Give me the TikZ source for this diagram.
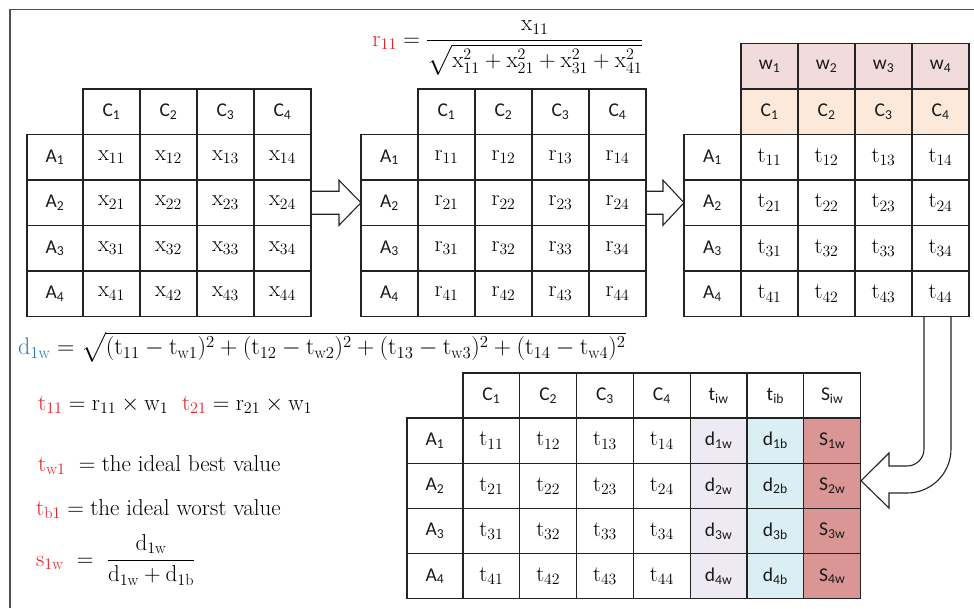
\documentclass[tikz,border=0pt]{standalone}
\usepackage{fix-cm}
\usepackage{amsmath}
\usepackage{fontspec}
\newfontfamily\labfont{Carlito}
\usetikzlibrary{calc}
\definecolor{linec}{RGB}{35,35,35}
\definecolor{framec}{RGB}{80,80,80}
\definecolor{wfill}{RGB}{242,220,219}
\definecolor{cfill}{RGB}{252,233,218}
\definecolor{dwfill}{RGB}{237,234,243}
\definecolor{dbfill}{RGB}{218,238,243}
\definecolor{sfill}{RGB}{217,150,148}
\definecolor{eqred}{RGB}{232,30,37}
\definecolor{eqblue}{RGB}{46,117,182}
\newcommand\lb[2]{#1\textsubscript{#2}}
\begin{document}
\begin{tikzpicture}[x=1pt,y=-1pt,
  cell/.style={draw=linec, line width=1.1pt, minimum width=57pt, minimum height=45.5pt, inner sep=0pt, anchor=north west, outer sep=0pt},
  bcell/.style={cell, minimum width=56.8pt, minimum height=45.2pt},
  lab/.style={font=\labfont\fontsize{19.5}{21}\selectfont, text=black!90},
  mth/.style={font=\fontsize{22.5}{26}\selectfont, text=black},
  eqn/.style={font=\fontsize{23}{27}\selectfont, inner sep=0pt, text=black},
  blockarrow/.style={draw=linec, line width=1.1pt, line join=miter}]
\useasboundingbox (0,0) rectangle (974,608);
\draw[framec, line width=1.3pt] (10,608) -- (10,9.5) -- (974,9.5);

% ---------- Table 1 ----------
\foreach \c in {1,...,4}
  \node[cell,lab] (T1h\c) at ({83+(\c-1)*57},89) {\lb{C}{\c}};
\foreach \r in {1,...,4} {
  \node[cell,lab,minimum width=56pt] (T1a\r) at (27,{134.5+(\r-1)*45.5}) {\lb{A}{\r}};
  \foreach \c in {1,...,4}
    \node[cell,mth] (T1x\r\c) at ({83+(\c-1)*57},{134.5+(\r-1)*45.5}) {$\mathrm{x}_{\r\c}$};
}

% ---------- Table 2 ----------
\foreach \c in {1,...,4}
  \node[cell,lab] (T2h\c) at ({418+(\c-1)*57},89) {\lb{C}{\c}};
\foreach \r in {1,...,4} {
  \node[cell,lab] (T2a\r) at (361,{134.5+(\r-1)*45.5}) {\lb{A}{\r}};
  \foreach \c in {1,...,4}
    \node[cell,mth] (T2x\r\c) at ({418+(\c-1)*57},{134.5+(\r-1)*45.5}) {$\mathrm{r}_{\r\c}$};
}

% ---------- Table 3 ----------
\foreach \c in {1,...,4} {
  \node[cell,lab,fill=wfill] (T3w\c) at ({741+(\c-1)*57},43.5) {\lb{w}{\c}};
  \node[cell,lab,fill=cfill] (T3h\c) at ({741+(\c-1)*57},89) {\lb{C}{\c}};
}
\foreach \r in {1,...,4} {
  \node[cell,lab] (T3a\r) at (684,{134.5+(\r-1)*45.5}) {\lb{A}{\r}};
  \foreach \c in {1,...,4}
    \node[cell,mth] (T3x\r\c) at ({741+(\c-1)*57},{134.5+(\r-1)*45.5}) {$\mathrm{t}_{\r\c}$};
}

% ---------- Bottom table ----------
\foreach \c in {1,...,4}
  \node[bcell,lab] (BH\c) at ({463+(\c-1)*56.8},373) {\lb{C}{\c}};
\node[bcell,lab] (BH5) at ({463+4*56.8},373) {\lb{t}{iw}};
\node[bcell,lab] (BH6) at ({463+5*56.8},373) {\lb{t}{ib}};
\node[bcell,lab] (BH7) at ({463+6*56.8},373) {\lb{S}{iw}};
\foreach \r in {1,...,4} {
  \node[bcell,lab,minimum width=56pt] (BA\r) at (407,{418+(\r-1)*45.2}) {\lb{A}{\r}};
  \foreach \c in {1,...,4}
    \node[bcell,mth] (BT\r\c) at ({463+(\c-1)*56.8},{418+(\r-1)*45.2}) {$\mathrm{t}_{\r\c}$};
  \node[bcell,lab,fill=dwfill] (BW\r) at ({463+4*56.8},{418+(\r-1)*45.2}) {\lb{d}{\r w}};
  \node[bcell,lab,fill=dbfill] (BB\r) at ({463+5*56.8},{418+(\r-1)*45.2}) {\lb{d}{\r b}};
  \node[bcell,lab,fill=sfill] (BS\r) at ({463+6*56.8},{418+(\r-1)*45.2}) {\lb{S}{\r w}};
}

% ---------- Block arrows ----------
\draw[blockarrow] ($(T1x24.east)+(0,-11.5)$) -- ++(28,0) -- ++(0,-11) -- (T2a2.west)
  -- ($(T1x24.east)+(28,22.5)$) -- ++(0,-11) -- ++(-28,0);
\draw[blockarrow] ($(T2x24.east)+(0,-11.5)$) -- ++(17,0) -- ++(0,-11) -- (T3a2.west)
  -- ($(T2x24.east)+(17,22.5)$) -- ++(0,-11) -- ++(-17,0);
\coordinate (ca) at ($(T3x44.south west)+(12,0)$);
\coordinate (cb) at ($(T3x44.south west)+(39,0)$);
\coordinate (ctip) at ($(BS2.east)+(0.5,-5)$);
\draw[blockarrow] (ca) -- (924,449) .. controls (924,458.4) and (916.4,466) .. (907,466)
  -- (889,466) -- (889,453) -- (ctip) -- (889,508) -- (889,493) -- (907,493)
  .. controls (931.3,493) and (951,473.3) .. (951,449) -- (cb);

% ---------- Formulas ----------
\node[eqn] (req) at (508,48) {$\displaystyle {\color{eqred}\mathrm{r}_{11}} = \frac{\mathrm{x}_{11}}{\sqrt{\mathrm{x}_{11}^2+\mathrm{x}_{21}^2+\mathrm{x}_{31}^2+\mathrm{x}_{41}^2}}$};
\node[eqn,anchor=west,font=\fontsize{24}{28}\selectfont] (deq) at (18,347) {$ {\color{eqblue}\mathrm{d}_{1\mathrm{w}}} = \sqrt{(\mathrm{t}_{11}-\mathrm{t}_{\mathrm{w}1})^2+(\mathrm{t}_{12}-\mathrm{t}_{\mathrm{w}2})^2+(\mathrm{t}_{13}-\mathrm{t}_{\mathrm{w}3})^2+(\mathrm{t}_{14}-\mathrm{t}_{\mathrm{w}4})^2}$};
\node[eqn,anchor=west] (teq) at (38,405) {$ {\color{eqred}\mathrm{t}_{11}} = \mathrm{r}_{11}\times\mathrm{w}_1\ \ {\color{eqred}\mathrm{t}_{21}} = \mathrm{r}_{21}\times\mathrm{w}_1$};
\node[eqn,anchor=west] (tweq) at (38,465) {$ {\color{eqred}\mathrm{t}_{\mathrm{w}1}}\ = \text{the ideal best value}$};
\node[eqn,anchor=west] (tbeq) at (36,509) {$ {\color{eqred}\mathrm{t}_{\mathrm{b}1}} = \text{the ideal worst value}$};
\node[eqn,anchor=west] (seq) at (36,560) {$\displaystyle {\color{eqred}\mathrm{s}_{1\mathrm{w}}}\ =\ \frac{\mathrm{d}_{1\mathrm{w}}}{\mathrm{d}_{1\mathrm{w}}+\mathrm{d}_{1\mathrm{b}}}$};
\end{tikzpicture}
\end{document}
